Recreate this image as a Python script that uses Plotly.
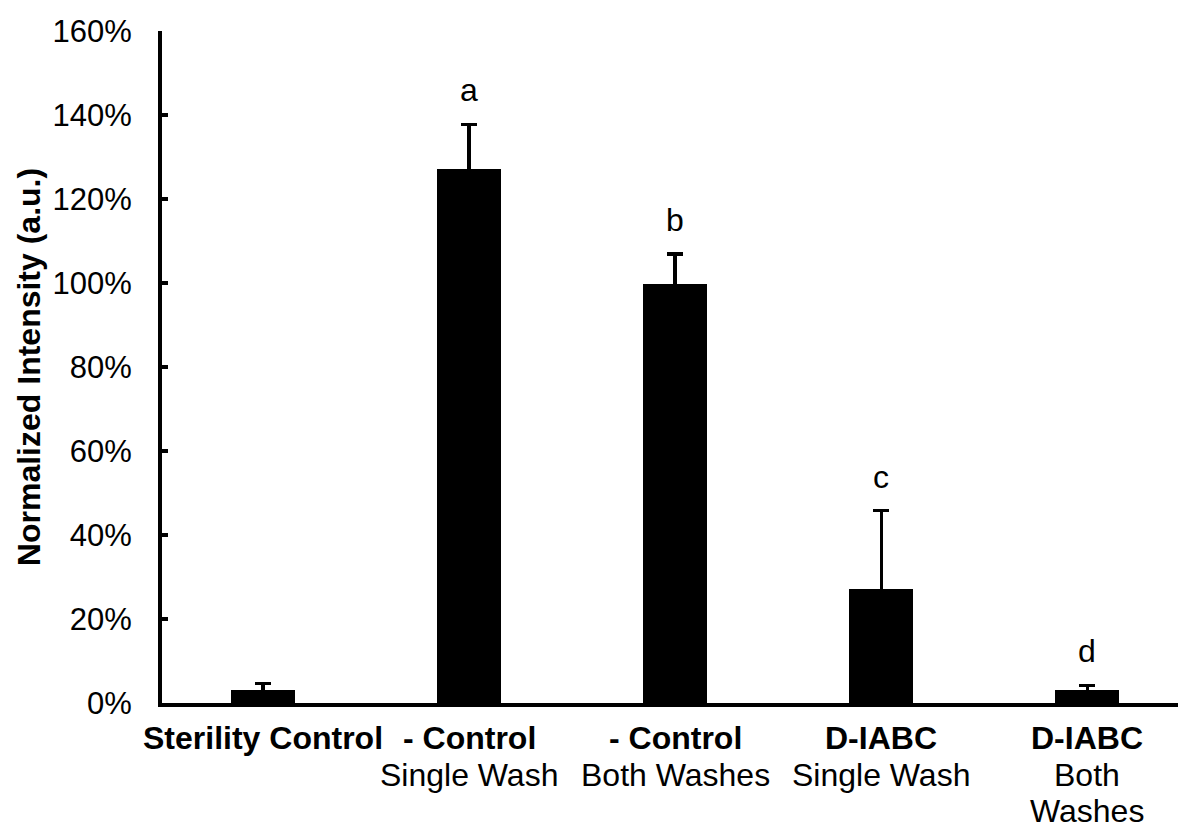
import plotly.graph_objects as go

# Groups, means (%), error (%) and significance letters
group_titles = ["Sterility Control", "- Control", "- Control", "D-IABC", "D-IABC"]
group_subtitles = [[], ["Single Wash"], ["Both Washes"], ["Single Wash"], ["Both", "Washes"]]
intensity = [3.0, 127.2, 99.8, 27.1, 3.0]
intensity_err = [1.6, 10.6, 7.1, 18.7, 1.2]
sig_letters = ["", "a", "b", "c", "d"]
y_ticks = [0, 20, 40, 60, 80, 100, 120, 140, 160]
y_tick_labels = ["0%", "20%", "40%", "60%", "80%", "100%", "120%", "140%", "160%"]

FONT = "Liberation Sans, Arial, sans-serif"
FS_TICK = 31
FS = 32
x_pos = list(range(len(group_titles)))

fig = go.Figure()
fig.add_trace(go.Bar(
    x=x_pos,
    y=intensity,
    width=0.312,
    marker=dict(color="black", line=dict(width=0)),
    # the lower half of each error bar is hidden inside its black bar
    error_y=dict(type="data", symmetric=True, array=intensity_err,
                 color="black", thickness=3.3, width=8),
    showlegend=False,
))

annotations = []
# significance letters above the error bars
for x, v, e, s in zip(x_pos, intensity, intensity_err, sig_letters):
    if s:
        annotations.append(dict(x=x, y=v + e, xref="x", yref="y", text=s,
                                showarrow=False, yanchor="bottom", yshift=14,
                                font=dict(family=FONT, size=FS, color="black")))
# category labels: bold title line, then plain sub-lines
LINE = 36.5
for x, t, subs in zip(x_pos, group_titles, group_subtitles):
    annotations.append(dict(x=x, y=0, xref="x", yref="paper", text="<b>%s</b>" % t,
                            showarrow=False, yanchor="top", yshift=-15,
                            font=dict(family=FONT, size=FS, color="black")))
    for i, line in enumerate(subs):
        annotations.append(dict(x=x, y=0, xref="x", yref="paper", text=line,
                                showarrow=False, yanchor="top",
                                yshift=-15 - LINE * (i + 1),
                                font=dict(family=FONT, size=FS, color="black")))

fig.update_layout(
    width=1178, height=822,
    margin=dict(l=162, r=0, t=31, b=119, pad=0),
    paper_bgcolor="white", plot_bgcolor="white",
    font=dict(family=FONT, size=FS, color="black"),
    bargap=0,
    annotations=annotations,
    xaxis=dict(range=[-0.4896, 4.44], showticklabels=False, ticks="",
               showgrid=False, zeroline=False, showline=True,
               linecolor="black", linewidth=4, automargin=False),
    yaxis=dict(range=[0, 160], tickmode="array", tickvals=y_ticks,
               ticktext=y_tick_labels,
               ticks="inside", ticklen=6, tickwidth=3.5, tickcolor="black",
               showgrid=False, zeroline=False, showline=True,
               linecolor="black", linewidth=4, automargin=False,
               ticklabelstandoff=20,
               tickfont=dict(family=FONT, size=FS_TICK, color="black"),
               title=dict(text="<b>Normalized Intensity (a.u.)</b>", standoff=3,
                          font=dict(family=FONT, size=FS, color="black"))),
)

fig.write_html("out.html")
